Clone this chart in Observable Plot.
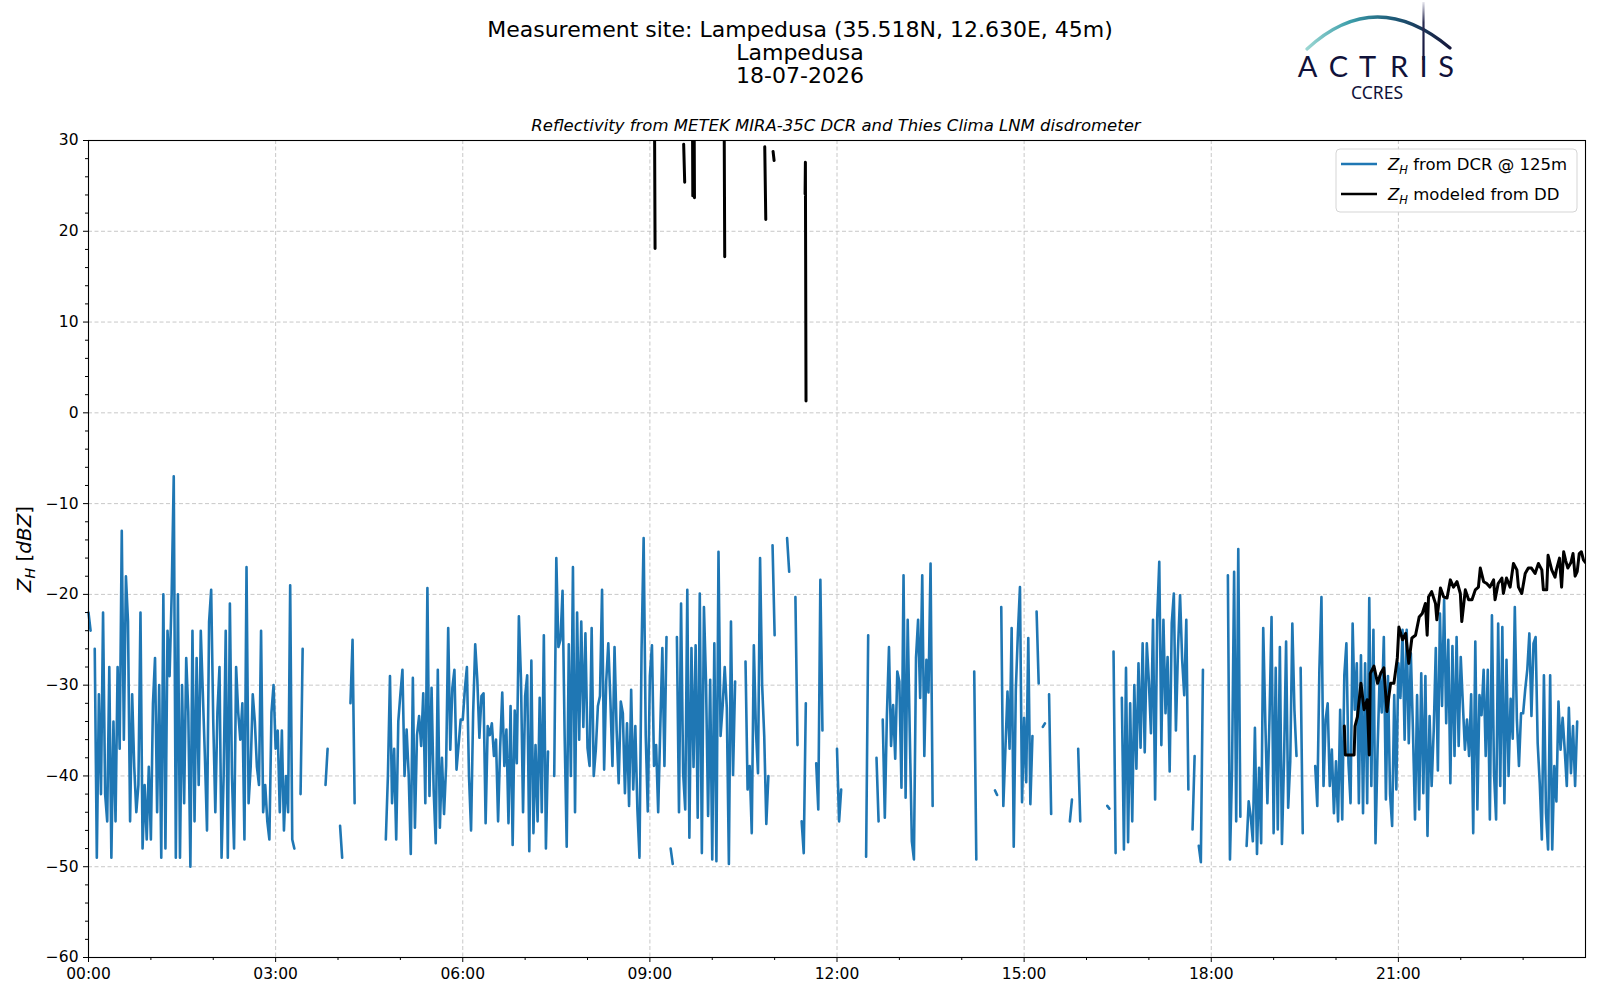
<!DOCTYPE html>
<html><head><meta charset="utf-8">
<script src="https://cdn.jsdelivr.net/npm/d3@7"></script>
<script src="https://cdn.jsdelivr.net/npm/@observablehq/plot@0.6"></script>
<style>body{margin:0;background:#fff;} #chart svg{display:block;}</style>
</head><body><div id="chart"></div>
<script>
// ---------- data ----------
const dcrStepMinutes = 2; // DCR reflectivity @125 m, one value every 2 minutes from 00:00 (one row per hour)
const dcrZ = [
  -22,-24,null,-26,-49,-31,-42,-22,-42,-45,-28,-49,-34,-45,-28,-37,-13,-36,-18,-23,-45,-31,-39,-44,-41,-22,-48,-41,-47,-39,
  -47,-32,-27,-44,-30,-49,-20,-48,-24,-29,-20,-7,-49,-20,-49,-30,-43,-27,-33,-50,-24,-45,-27,-41,-24,-31,-38,-46,-23,-19.5,
  -34,-44,-33,-28,-49,-40,-24,-49,-21,-40,-48,-28,-33,-36,-32,-47,-17,-43,-39,-31,-34,-39,-41,-24,-44,-41,-45,-47,-33,-30,
  -37,-35,-44,-35,-46,-40,-44,-19,-47,-48,null,null,-42,-26,null,null,null,null,null,null,null,null,null,null,-41,-37,null,null,null,null,
  null,-45.5,-49,null,null,null,-32,-25,-43,null,null,null,null,null,null,null,null,null,null,null,null,null,null,-47,-40,-29,-43,-37,-47,-34,
  -31,-28.3,-40,-34.9,-39.9,-48.6,-29.2,-45.7,-35.5,-33.4,-36.7,-30.9,-43,-19.3,-42.2,-30.3,-41.5,-47.4,-28.3,-45.7,-38,-44.2,-38.9,-23.7,-37.1,-30.3,-28.3,-39.3,-36.6,-33.8,
  -33.8,-30.5,-28,-40,-46,-33,-25.5,-29.4,-35.8,-31.2,-30.9,-45.2,-34.5,-35.5,-34.2,-37.8,-36,-45,-36.8,-30.8,-38.9,-34.9,-45.2,-32.3,-47.6,-32.8,-38.6,-22.4,-29.3,-44,
  -31.2,-28.9,-48.3,-27.3,-46.3,-36.6,-45,-31.4,-44,-24.5,-48,-37.3,null,null,-40,-16,-25.8,-25,-19.6,-35.5,-47.8,-25.5,-40,-17,-44,-22,-36,-23,-34.6,-24.3,
  -36.9,-38.9,-23.7,-40,-37.1,-32.3,-31.2,-19.5,-39.3,-29.6,-25.4,-31.6,-38.9,-25.8,-34.9,-40.8,-31.8,-33.1,-41.9,-34.2,-43.3,-30.5,-41.5,-34.5,-43.7,-49,-26.1,-13.8,-35.5,-43.9,
  -29,-25.6,-38.9,-36.6,-44,-34.7,-25.9,-38.9,-24.7,null,-48,-49.7,null,-24.7,-44,-21,-39.7,-43.7,-19.5,-46.8,-25.9,-39,-25.6,-44.6,-19.9,-48.5,-21.4,-29.6,-44.4,-29.4,
  -49.2,-25.4,-49.4,-15.3,-35.6,-32.3,-28,-32.5,-49.7,-23,-39.9,-29.6,null,null,null,null,-27.4,-41.5,-38.9,-46.3,-25.6,-34.9,-39.7,-16,-30,-35.6,-45.3,-40,null,-14.6,
  -24.5,null,null,null,null,null,-13.8,-17.5,null,null,-20.3,-36.6,null,-45,-48.5,-32,null,null,null,null,-38.6,-43.7,-18.4,-35,null,null,null,null,null,null,
  -37,-45,-41.5,null,null,null,null,null,null,null,null,null,null,null,-48.9,-24.5,null,null,null,-38,-45,null,-33.8,-44.6,-33.3,-25.8,-36.7,-32.2,-38.1,-28.5,
  -29.6,-41.3,-17.9,-42.4,-22.8,-35.3,-47.2,-49.2,-27,-22.8,-31.4,-17.9,-37.8,-27.2,-30.8,-16.6,-43.3,null,null,null,null,null,null,null,null,null,null,null,null,null,
  null,null,null,null,null,null,-28.5,-49.2,null,null,null,null,null,null,null,null,-41.6,-42.1,null,-21.4,-43.3,-37,-30.7,-37,-23.7,-47.8,-30.5,-24.3,-19.2,-42.9,
  -33.6,-40.7,-24.8,-43.1,-35.6,null,-21.9,-29.8,null,-34.6,-34.2,null,-31,-44.2,null,null,null,null,null,null,null,null,-45,-42.6,null,null,-37,-45,null,null,
  null,null,null,null,null,null,null,null,null,null,-43.3,-43.6,null,-26.3,-48.5,null,null,-31.4,-48.1,-28.1,-47.3,-32,-45,-30,-39.2,-27.6,-36.9,-25.4,-37.4,-25.4,
  -29.6,-35.3,-22.8,-42.6,-22.6,-16.4,-36.6,-22.8,-33.1,-26.9,-39.5,-23.2,-19.9,-35,-26.1,-20.1,-27.2,-31.1,-22.8,-41.5,null,-45.9,-37.8,null,-47.7,-49.5,-28.3,null,null,null,
  null,null,null,null,null,null,null,null,-17.9,-49.2,-39.3,-17.5,-45,-15,-44.5,null,null,-47.7,-42.8,-44.5,-47.2,-34.7,-48.6,-39.1,-47.4,-23.7,-34,-43,-33.8,-22.5,
  -46.3,-28.1,-45.9,-25.8,-47.5,-38.4,-25.2,-43.5,-38.4,-23.2,-32.7,-37.8,null,-28.1,-46.3,null,null,null,null,null,-38.9,-43.3,-28.3,-20.3,-41.1,-33.8,-32,-41.1,-37.1,-44.1,
  -38.4,-45,-32.7,-44.8,-28.9,-25.4,-38.6,-43,-23.2,-32.7,-27.6,-43,-26.7,-44.1,-27.6,-43,-20.4,-41.1,-23.9,-47.4,-37.1,-29,-33,-24.7,-42.6,-29,-42,-45.5,-31.1,-41.5,
  -27.6,-31.4,-23.9,-36,-23.9,-36.4,-26.5,-34.9,-44.8,-31.1,-43.7,-28.7,-41.9,-29,-46.6,-33.4,-41.1,-35,-25.9,-39.4,-22.1,-32.3,-20.6,-34.2,-25,-40.8,-25.7,-37.8,-24.7,-36.7,
  -26.9,-32,-37.1,-33.8,-37.8,-31,-46.3,-25.2,-43.7,-31.1,-33.3,-28.3,-37.8,-28.3,-44.8,-22.3,-39.7,-44.8,-23.2,-41.1,-23.6,-43,-27.2,-40,-31.5,-35.9,-21.4,-33.8,-38.9,-33.1,
  -33.1,-30.5,-28.3,-24.3,-33.4,-25.4,-24.7,-36.4,-40.8,-47,-28.9,-44.1,-48.1,-28.9,-48.1,-38.9,-42.8,-31.8,-37.1,-33.6,-37.1,-41.1,-32.5,-39.7,-34.5,-41.1,-34,null,null,null
];

// Disdrometer-modelled reflectivity: minute of day and value (null = gap, >30 = off the top of the axis)
const ddMinutes = [
  544,545,546, 572.5,573.5,574, 580.5,581.3,582.1,582.9,583.5, 611,612,612.5,
  650.5,651.5,652, 658.5,659.5,660, 689.3,689.6,690.2,691,
  1208,1209,1212,1215,1217.4,1218.3,1220.6,1224,1227,1230,1232,1233,1236.5,1240,1243,1246,1249,1252.5,1255.7,
  1259,1260.5,1264,1267,1270,1273,1276.5,1280,1283,1286,1287.7,1289,1292,1295.7,1297,1300.5,1303.6,1306.8,
  1310,1313,1316.4,1319.6,1321,1324.4,1327.6,1330.8,1334,1337,1338.8,1342,1345,1348,1351.6,1353,1356,1359.6,
  1361,1364,1367.5,1370.7,1374,1375.5,1378.7,1382,1385,1388,1391.5,1394.7,1398,1399.5,1402.7,1404,1407.5,
  1410.7,1412,1415,1417,1419,1421,1423,1426,1428,1430,1432,1434,1436,1438,1440
];
const ddZ = [
  45,18.1,null, 29.6,25.4,null, 45,23.9,45,23.7,null, 45,17.2,null,
  29.3,21.3,null, 28.8,27.8,null, 24.1,27.6,1.3,null,
  -34.5,-37.7,-37.7,-37.7,-37.7,-34.5,-33.5,-29.8,-32.7,-31.6,-37.7,-28.7,-27.9,-29.8,-28.7,-28.1,-32.9,-29.8,-29.8,
  -27,-23.6,-25,-24.3,-27.6,-24.8,-24.5,-22.5,-22.1,-21,-24.5,-20.3,-19.7,-21,-22.8,-19.3,-20.3,-20.4,
  -18.4,-19.2,-18.6,-19.9,-23,-19.5,-20.6,-20.6,-19.5,-19.2,-17.1,-18.6,-18.8,-19.2,-18.4,-20.6,-18.8,-18.2,
  -19.9,-18.2,-19.2,-16.6,-17.3,-19.2,-19.9,-17.7,-17.1,-17.1,-17.7,-16.6,-17.3,-19.5,-19.5,-15.7,-17.3,
  -18.1,-17.3,-16,-19.2,-15.3,-16.3,-17.1,-16.5,-15.5,-18,-17.5,-15.5,-15.3,-16.2,-16.5
];

const xMajorHours = [0,3,6,9,12,15,18,21];
const xMinorHours = [1,2,4,5,7,8,10,11,13,14,16,17,19,20,22,23];
const yMajor = [-60,-50,-40,-30,-20,-10,0,10,20,30];
const yMinor = [-58,-56,-54,-52,-48,-46,-44,-42,-38,-36,-34,-32,-28,-26,-24,-22,-18,-16,-14,-12,-8,-6,-4,-2,2,4,6,8,12,14,16,18,22,24,26,28];
const titleLines = ["Measurement site: Lampedusa (35.518N, 12.630E, 45m)", "Lampedusa", "18-07-2026"];
const subtitleText = "Reflectivity from METEK MIRA-35C DCR and Thies Clima LNM disdrometer";
const legendLabels = [" from DCR @ 125m", " modeled from DD"];
const seriesColors = ["#1f77b4", "#000000"];

// ---------- tables ----------
const dcr = dcrZ.map((z, i) => ({h: i * dcrStepMinutes / 60, z}));
const dd = ddMinutes.map((m, i) => ({h: m / 60, z: ddZ[i]}));

const fontFamily = "'DejaVu Sans', sans-serif";
const fmtHour = h => String(h).padStart(2, "0") + ":00";
const fmtY = d => d < 0 ? "\u2212" + (-d) : String(d);
const gridStyle = {stroke: "#c8c8c8", strokeOpacity: 1, strokeWidth: 1, strokeDasharray: "4,2.5"};

const plot = Plot.plot({
  width: 1600, height: 1000,
  marginTop: 140, marginBottom: 43, marginLeft: 88, marginRight: 15,
  style: {fontFamily, fontSize: "15.5px", background: "white", color: "black"},
  x: {domain: [0, 24], label: null},
  y: {domain: [-60, 30], label: null},
  marks: [
    Plot.gridX(xMajorHours, gridStyle),
    Plot.gridY(yMajor, gridStyle),
    Plot.line(dcr, {x: "h", y: "z", stroke: seriesColors[0], strokeWidth: 2.6}),
    Plot.line(dd, {x: "h", y: "z", stroke: seriesColors[1], strokeWidth: 3, clip: true}),
    Plot.frame({stroke: "black", strokeWidth: 1.1}),
    Plot.axisX(xMajorHours, {tickSize: 5, tickPadding: 5, tickFormat: fmtHour, label: null, fontSize: 15.5}),
    Plot.axisX(xMinorHours, {tickSize: 3, tickFormat: () => "", label: null}),
    Plot.axisY(yMajor, {tickSize: 5, tickPadding: 5, tickFormat: fmtY, label: null, fontSize: 15.5}),
    Plot.axisY(yMinor, {tickSize: 3, tickFormat: () => "", label: null})
  ]
});
document.getElementById("chart").appendChild(plot);

// ---------- decorations ----------
const svg = d3.select(plot);
const deco = svg.append("g").attr("font-family", fontFamily).attr("fill", "black");

titleLines.forEach((s, i) => {
  deco.append("text").attr("x", 800).attr("y", 36.5 + i * 23).attr("text-anchor", "middle")
    .attr("font-size", 22).text(s);
});
deco.append("text").attr("x", 836).attr("y", 131).attr("text-anchor", "middle")
  .attr("font-size", 16.5).attr("font-style", "italic").text(subtitleText);

// y label
const yl = deco.append("text").attr("transform", "translate(31,549) rotate(-90)")
  .attr("text-anchor", "middle").attr("font-size", 20);
yl.append("tspan").attr("font-style", "italic").text("Z");
yl.append("tspan").attr("font-style", "italic").attr("font-size", 14).attr("dy", 4).text("H");
yl.append("tspan").attr("dy", -4).text(" [");
yl.append("tspan").attr("font-style", "italic").text("dBZ");
yl.append("tspan").text("]");

// legend
const lg = deco.append("g");
lg.append("rect").attr("x", 1336).attr("y", 149).attr("width", 241).attr("height", 63).attr("rx", 4)
  .attr("fill", "white").attr("fill-opacity", 0.85).attr("stroke", "#d5d5d5").attr("stroke-width", 1);
legendLabels.forEach((s, i) => {
  const y = 164 + i * 30;
  lg.append("line").attr("x1", 1341).attr("x2", 1377).attr("y1", y).attr("y2", y)
    .attr("stroke", seriesColors[i]).attr("stroke-width", 2.6);
  const t = lg.append("text").attr("x", 1388).attr("y", y + 6).attr("font-size", 16.5)
    .attr("text-anchor", "start");
  t.append("tspan").attr("font-style", "italic").text("Z");
  t.append("tspan").attr("font-style", "italic").attr("font-size", 11.5).attr("dy", 4).text("H");
  t.append("tspan").attr("dy", -4).text(s);
});

// logo
const defs = svg.append("defs");
const g1 = defs.append("linearGradient").attr("id", "arcGrad").attr("gradientUnits", "userSpaceOnUse")
  .attr("x1", 1307).attr("x2", 1450).attr("y1", 0).attr("y2", 0);
[[0, "#9ad6d2"], [0.3, "#3c9eaa"], [0.6, "#1e5a78"], [1, "#16183c"]].forEach(([o, c]) =>
  g1.append("stop").attr("offset", o).attr("stop-color", c));
const g2 = defs.append("linearGradient").attr("id", "barGrad").attr("gradientUnits", "userSpaceOnUse")
  .attr("x1", 0).attr("x2", 0).attr("y1", 2).attr("y2", 60);
[[0, "#e6e6ee"], [0.35, "#2a2c52"], [1, "#10123a"]].forEach(([o, c]) =>
  g2.append("stop").attr("offset", o).attr("stop-color", c));
const logo = svg.append("g");
logo.append("path").attr("d", "M1307,49 Q1375.5,-14.5 1450,48").attr("fill", "none")
  .attr("stroke", "url(#arcGrad)").attr("stroke-width", 3.2).attr("stroke-linecap", "round");
logo.append("line").attr("x1", 1423.5).attr("x2", 1423.5).attr("y1", 2).attr("y2", 60)
  .attr("stroke", "url(#barGrad)").attr("stroke-width", 2.2);
const letters = [["A", 1307.5], ["C", 1338.5], ["T", 1367.5], ["R", 1399], ["I", 1423.5], ["S", 1446]];
letters.forEach(([c, x]) => logo.append("text").attr("x", x).attr("y", 77).attr("text-anchor", "middle")
  .attr("font-family", "Lato, sans-serif").attr("font-size", 29).attr("fill", "#10123a").text(c));
logo.append("text").attr("x", 1377).attr("y", 99).attr("text-anchor", "middle")
  .attr("font-family", "'Noto Sans', sans-serif").attr("font-size", 17.5).attr("fill", "#10123a").text("CCRES");
</script>
</body></html>
